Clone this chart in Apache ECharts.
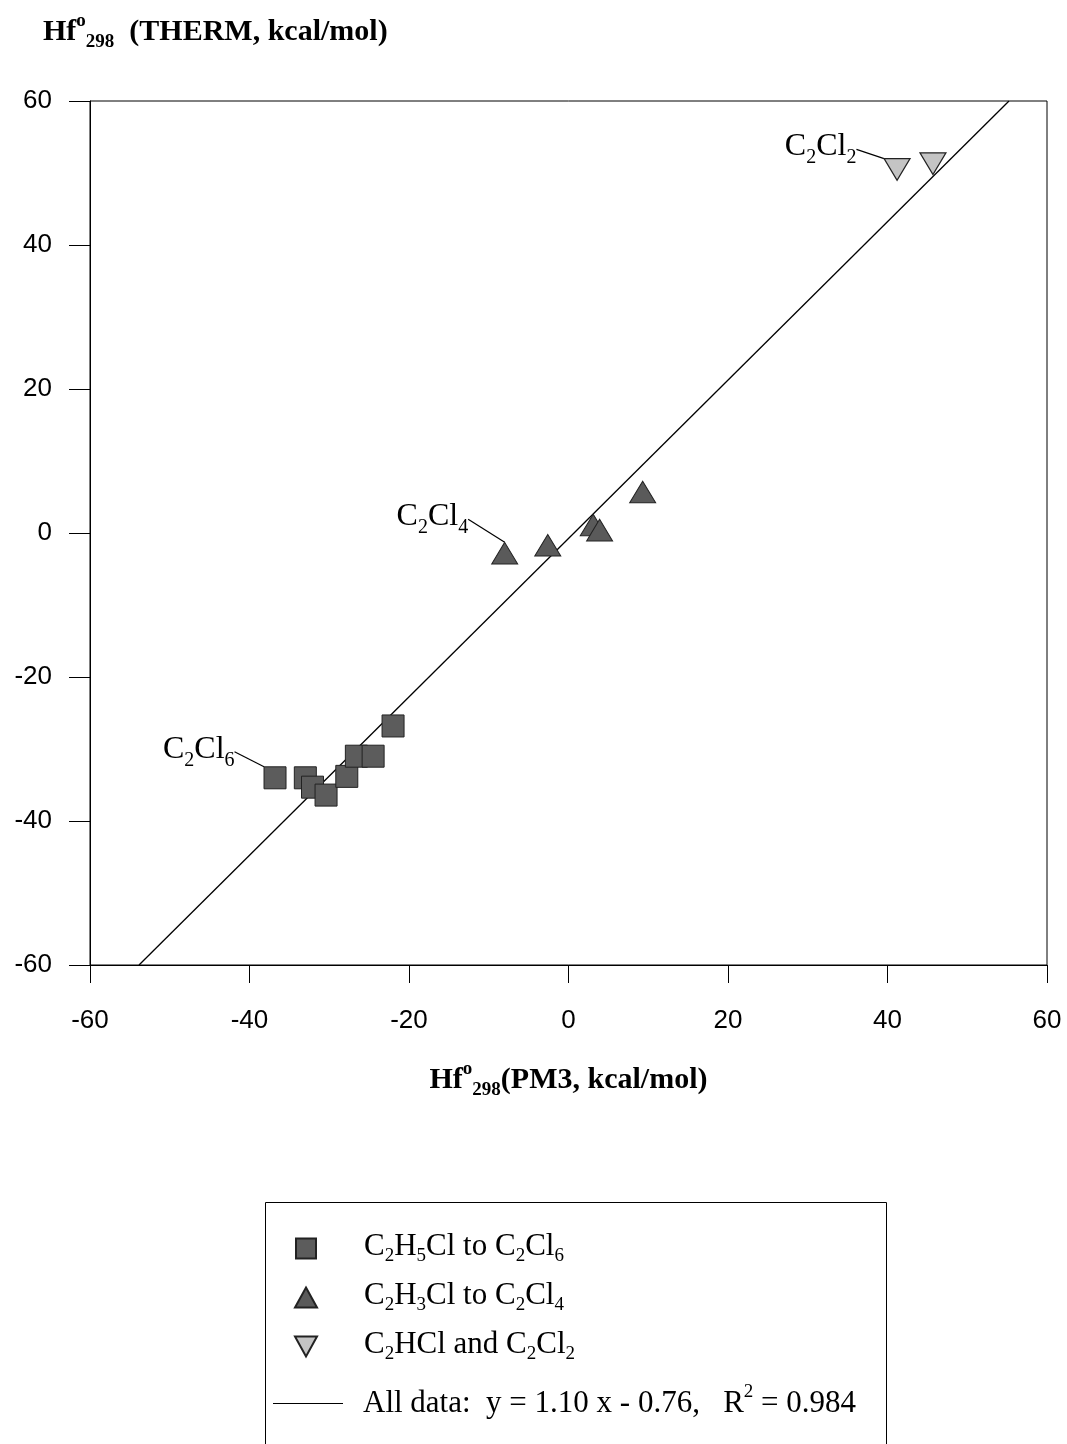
<!DOCTYPE html>
<html>
<head>
<meta charset="utf-8">
<script src="https://cdn.jsdelivr.net/npm/echarts@6/dist/echarts.min.js"></script>
<style>html,body{margin:0;padding:0;background:#fff;}#c{width:1067px;height:1444px;}</style>
</head>
<body>
<div id="c"></div>
<script>
// ---- data ----
const squaresX = [-36.8, -33.0, -32.1, -30.4, -27.8, -26.6, -24.5, -22.0];
const squaresY = [-34.0, -34.0, -35.3, -36.4, -33.8, -31.0, -31.0, -26.8];
const trianglesX = [-8.0, -2.6, 3.1, 3.9, 9.3];
const trianglesY = [-2.8, -1.7, 1.1, 0.4, 5.7];
const invTrianglesX = [41.2, 45.7];
const invTrianglesY = [50.5, 51.3];
const fitSlope = 1.10, fitIntercept = -0.76;
const axisTicks = [-60, -40, -20, 0, 20, 40, 60];
const seriesNames = ['C2H5Cl to C2Cl6', 'C2H3Cl to C2Cl4', 'C2HCl and C2Cl2', 'All data'];

const SERIF = '"Liberation Serif", "Times New Roman", serif';
const SANS = '"Liberation Sans", Arial, sans-serif';
function mkRich(fs, bold) {
  const w = bold ? 'bold' : 'normal';
  const sub = Math.round(fs * 0.62);
  return {
    n: {fontFamily: SERIF, fontSize: fs, fontWeight: w, color: '#000', verticalAlign: 'top'},
    s: {fontFamily: SERIF, fontSize: sub, fontWeight: w, color: '#000', verticalAlign: 'top', padding: [Math.round(fs * 0.52), 0, 0, 0]},
    p: {fontFamily: SERIF, fontSize: sub, fontWeight: w, color: '#000', verticalAlign: 'top', padding: [-Math.round(fs * 0.16), 0, 0, 0]}
  };
}
const richLegend = mkRich(31, false);
const richLabel = mkRich(32, false);
const richTitle = mkRich(30, true);

const legendText = {
  'C2H5Cl to C2Cl6': '{n|C}{s|2}{n|H}{s|5}{n|Cl to C}{s|2}{n|Cl}{s|6}',
  'C2H3Cl to C2Cl4': '{n|C}{s|2}{n|H}{s|3}{n|Cl to C}{s|2}{n|Cl}{s|4}',
  'C2HCl and C2Cl2': '{n|C}{s|2}{n|HCl and C}{s|2}{n|Cl}{s|2}',
  'All data': '{n|All data:  y = 1.10 x - 0.76,   R}{p|2}{n| = 0.984}'
};

function zip(xs, ys) { return xs.map((x, i) => [x, ys[i]]); }
const yMin = axisTicks[0], yMax = axisTicks[axisTicks.length - 1];
const fitLine = [[(yMin - fitIntercept) / fitSlope, yMin], [(yMax - fitIntercept) / fitSlope, yMax]];

function labelled(pt, txt) {
  return {
    value: pt,
    label: {show: true, position: 'left', distance: 6, formatter: txt, rich: richLabel},
    labelLine: {show: true, lineStyle: {color: '#000', width: 1.2}}
  };
}

const sqData = zip(squaresX, squaresY).map((p, i) => i === 0 ? labelled(p, '{n|C}{s|2}{n|Cl}{s|6}') : p);
const trData = zip(trianglesX, trianglesY).map((p, i) => i === 0 ? labelled(p, '{n|C}{s|2}{n|Cl}{s|4}') : p);
const itData = zip(invTrianglesX, invTrianglesY).map((p, i) => i === 0 ? labelled(p, '{n|C}{s|2}{n|Cl}{s|2}') : p);

const SQ = 'path://M0,0H10V10H0Z';
const TRI = 'path://M5,0L10,9H0Z';
const ITRI = 'path://M0,0H10L5,9Z';
const LINEICON = 'path://M0,0H70V1.2H0Z';

const chart = echarts.init(document.getElementById('c'), null, {renderer: 'canvas'});
chart.setOption({
  animation: false,
  backgroundColor: '#fff',
  title: [{
    text: '{n|Hf}{p|o}{s|298}{n|  (THERM, kcal/mol)}',
    left: 38, top: 12,
    textStyle: {rich: richTitle}
  }],
  grid: {left: 90, right: 20, top: 101, bottom: 479, show: true, borderColor: '#000', borderWidth: 1, backgroundColor: 'transparent'},
  xAxis: {
    type: 'value', min: yMin, max: yMax, interval: 20,
    name: '{n|Hf}{p|o}{s|298}{n|(PM3, kcal/mol)}',
    nameLocation: 'middle', nameGap: 100,
    nameTextStyle: {rich: richTitle},
    axisLine: {show: true, onZero: false, lineStyle: {color: '#000', width: 1}},
    axisTick: {show: true, inside: false, length: 18, lineStyle: {color: '#000'}},
    axisLabel: {color: '#000', fontFamily: SANS, fontSize: 26, margin: 43},
    splitLine: {show: false}
  },
  yAxis: {
    type: 'value', min: yMin, max: yMax, interval: 20,
    axisLine: {show: true, onZero: false, lineStyle: {color: '#000', width: 1}},
    axisTick: {show: true, inside: false, length: 21, lineStyle: {color: '#000'}},
    axisLabel: {color: '#000', fontFamily: SANS, fontSize: 26, margin: 38},
    splitLine: {show: false}
  },
  legend: [{
    orient: 'vertical', left: 294, top: 1231,
    data: seriesNames.slice(0, 3),
    itemWidth: 22, itemHeight: 20, itemGap: 14, padding: 0,
    formatter: name => legendText[name],
    textStyle: {rich: richLegend, padding: [0, 0, 0, 42]},
    selectedMode: false
  }, {
    orient: 'vertical', left: 273, top: 1383,
    data: [{name: seriesNames[3], icon: LINEICON}],
    itemWidth: 70, itemHeight: 20, padding: 0,
    formatter: name => legendText[name],
    textStyle: {rich: richLegend, padding: [0, 0, 0, 15]},
    selectedMode: false
  }],
  graphic: [{
    type: 'rect', left: 263, top: 1200, z: -1,
    shape: {width: 621, height: 320},
    style: {fill: 'none', stroke: '#000', lineWidth: 1}
  }],
  series: [
    {name: seriesNames[0], type: 'scatter', symbol: SQ, symbolSize: 22, symbolKeepAspect: true,
     labelLayout: {dx: -23, dy: -26},
     itemStyle: {color: '#5c5c5c', borderColor: '#222', borderWidth: 1, opacity: 1}, data: sqData, z: 3},
    {name: seriesNames[1], type: 'scatter', symbol: TRI, symbolSize: [26, 24], symbolKeepAspect: true,
     labelLayout: {dx: -17, dy: -34},
     itemStyle: {color: '#5a5a5a', borderColor: '#222', borderWidth: 1, opacity: 1}, data: trData, z: 3},
    {name: seriesNames[2], type: 'scatter', symbol: ITRI, symbolSize: [26, 24], symbolKeepAspect: true,
     labelLayout: {dx: -21, dy: -20},
     itemStyle: {color: '#c4c4c4', borderColor: '#222', borderWidth: 1.2, opacity: 1}, data: itData, z: 3},
    {name: seriesNames[3], type: 'line', symbol: 'none', data: fitLine,
     lineStyle: {color: '#000', width: 1.3}, itemStyle: {color: '#000'}, z: 2, silent: true}
  ]
});
</script>
</body>
</html>
